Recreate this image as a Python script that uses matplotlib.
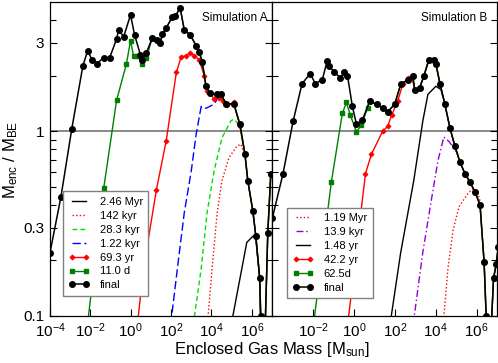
#!/usr/bin/env python3
# -*- coding: utf-8 -*-
"""
M_enc / M_BE 随包围气体质量的变化（两个模拟对比）
"""

import numpy as np
import matplotlib
matplotlib.use('Agg')
import matplotlib.pyplot as plt
from matplotlib.ticker import FixedLocator, FuncFormatter, NullFormatter

# ---- Simulation A (x 为 log10 质量 [M_sun]) ----
a_final_logm = [-4.0, -3.46, -2.92, -2.37, -2.13, -1.93, -1.68, -1.34, -1.04, -0.70, -0.60,
                -0.35, -0.01, 0.19, 0.48, 0.58, 0.78, 1.07, 1.32, 1.47, 1.57, 1.76, 2.06,
                2.21, 2.45, 2.65, 2.95, 3.24, 3.39, 3.54, 3.73, 3.93, 4.28, 4.47, 4.72,
                5.11, 5.41, 5.66, 5.80, 6.05, 6.20, 6.39, 6.44, 6.47, 6.62, 6.79, 6.94]
a_final_y = [0.22, 0.44, 1.03, 2.26, 2.73, 2.44, 2.32, 2.50, 2.50, 3.16, 3.54,
             3.24, 4.26, 3.32, 2.59, 2.44, 2.66, 3.20, 3.12, 3.01, 3.36, 3.62, 4.15,
             4.20, 4.64, 3.54, 3.32, 2.90, 2.69, 2.38, 1.75, 1.60, 1.58, 1.58, 1.41,
             1.40, 1.09, 0.75, 0.54, 0.37, 0.27, 0.16, 0.10, 0.06, 0.06, 0.28, 0.59]

a_d11_logm = [-2.20, -1.34, -0.70, -0.21, -0.01, 0.14, 0.33, 0.58, 0.78, 1.07, 1.32, 1.47,
              1.57, 1.76, 2.06, 2.21, 2.45, 2.65, 2.95, 3.24, 3.39, 3.54, 3.73, 3.93,
              4.28, 4.47, 4.72, 5.11, 5.41, 5.66, 5.80, 6.05, 6.20, 6.39, 6.44, 6.47,
              6.62, 6.79, 6.94]
a_d11_y = [0.08, 0.49, 1.47, 2.32, 3.09, 2.56, 2.56, 2.32, 2.50, 3.20, 3.12, 3.01,
           3.36, 3.62, 4.15, 4.20, 4.64, 3.54, 3.32, 2.90, 2.69, 2.38, 1.75, 1.60,
           1.58, 1.58, 1.41, 1.40, 1.09, 0.75, 0.54, 0.37, 0.27, 0.16, 0.10, 0.06,
           0.06, 0.28, 0.59]

a_yr69_logm = [0.28, 0.63, 1.27, 1.76, 2.26, 2.50, 2.75, 2.95, 3.14, 3.39, 3.64, 3.78,
               3.93, 4.13, 4.37, 4.57, 4.77, 5.11, 5.41, 5.66, 5.80, 6.05, 6.20, 6.39,
               6.44, 6.47, 6.62, 6.79, 6.94]
a_yr69_y = [0.08, 0.18, 0.48, 0.89, 2.08, 2.53, 2.56, 2.66, 2.56, 2.44, 2.00, 1.64,
            1.60, 1.49, 1.52, 1.45, 1.38, 1.43, 1.06, 0.75, 0.54, 0.37, 0.27, 0.16,
            0.10, 0.06, 0.06, 0.28, 0.59]

a_kyr1_logm = [1.98, 2.31, 2.65, 3.00, 3.24, 3.49, 3.73, 4.13, 4.37]
a_kyr1_y = [0.09, 0.18, 0.36, 0.61, 0.96, 1.36, 1.33, 1.40, 1.54]

a_kyr28_logm = [3.10, 3.49, 3.78, 4.13, 4.52, 4.97, 5.11, 5.46]
a_kyr28_y = [0.09, 0.18, 0.36, 0.61, 0.92, 1.14, 1.16, 1.06]

a_kyr142_logm = [3.80, 4.03, 4.28, 4.52, 4.87, 5.26, 5.46, 5.61]
a_kyr142_y = [0.09, 0.18, 0.36, 0.54, 0.72, 0.83, 0.85, 0.76]

a_myr_logm = [4.98, 5.46, 5.75, 6.05, 6.20, 6.39, 6.47]
a_myr_y = [0.09, 0.17, 0.25, 0.27, 0.26, 0.16, 0.06]

# ---- Simulation B ----
b_final_logm = [-3.98, -3.46, -2.97, -2.53, -2.13, -1.89, -1.54, -1.30, -1.20, -0.95, -0.66,
                -0.46, -0.31, -0.07, 0.13, 0.42, 0.77, 1.11, 1.41, 1.65, 2.00, 2.29,
                2.63, 2.88, 2.98, 3.22, 3.42, 3.67, 3.91, 4.01, 4.21, 4.45, 4.70, 4.94,
                5.19, 5.43, 5.68, 5.92, 6.17, 6.37, 6.47, 6.52, 6.62, 6.83, 6.96, 7.06]
b_final_y = [0.34, 0.59, 1.13, 1.81, 2.05, 1.81, 1.90, 2.41, 2.26, 2.08, 1.95,
             2.08, 2.00, 1.36, 1.09, 1.15, 1.45, 1.40, 1.33, 1.27, 1.40, 1.79,
             1.90, 2.00, 1.66, 1.72, 1.98, 2.44, 2.44, 2.32, 1.81, 1.40, 1.04, 0.83,
             0.68, 0.59, 0.53, 0.47, 0.40, 0.195, 0.10, 0.05, 0.05, 0.16, 0.19, 0.235]

b_d62_logm = [-1.97, -1.10, -0.56, -0.36, -0.17, 0.13, 0.37, 0.67, 0.77, 1.11, 1.41, 1.65,
              2.00, 2.29, 2.63, 2.88, 2.98, 3.22, 3.42, 3.67, 3.91, 4.01, 4.21, 4.45,
              4.70, 4.94, 5.19, 5.43, 5.68, 5.92, 6.17, 6.37, 6.47, 6.52, 6.62, 6.83,
              6.96, 7.06]
b_d62_y = [0.09, 0.53, 1.25, 1.43, 1.22, 0.99, 1.08, 1.33, 1.45, 1.40, 1.33, 1.27,
           1.40, 1.79, 1.90, 2.00, 1.66, 1.72, 1.98, 2.44, 2.44, 2.32, 1.81, 1.40,
           1.04, 0.83, 0.68, 0.59, 0.53, 0.47, 0.40, 0.195, 0.10, 0.05, 0.05, 0.16,
           0.19, 0.235]

b_yr42_logm = [-0.30, 0.57, 0.86, 1.41, 1.65, 1.85, 2.14, 2.39, 2.63, 2.83, 2.98, 3.22,
               3.42, 3.67, 3.91, 4.01, 4.21, 4.45, 4.70, 4.94, 5.19, 5.43, 5.68, 5.92,
               6.17, 6.37, 6.47, 6.52, 6.62, 6.83, 6.96, 7.06]
b_yr42_y = [0.09, 0.59, 0.75, 1.00, 1.06, 1.22, 1.45, 1.79, 1.93, 2.00, 1.66, 1.72,
            1.98, 2.44, 2.44, 2.32, 1.81, 1.40, 1.04, 0.83, 0.68, 0.59, 0.53, 0.47,
            0.40, 0.195, 0.10, 0.05, 0.05, 0.16, 0.19, 0.235]

b_yr148_logm = [1.77, 2.29, 2.93, 3.37, 3.62, 4.01, 4.26, 4.35]
b_yr148_y = [0.09, 0.22, 0.54, 1.13, 1.58, 1.75, 1.68, 1.54]

b_kyr14_logm = [2.90, 3.37, 3.76, 4.11, 4.40, 4.65, 4.89, 5.09]
b_kyr14_y = [0.09, 0.22, 0.405, 0.69, 0.93, 0.88, 0.81, 0.75]

b_myr_logm = [4.37, 4.60, 4.85, 5.14, 5.58, 5.83, 6.07, 6.22]
b_myr_y = [0.09, 0.18, 0.29, 0.39, 0.46, 0.49, 0.46, 0.40]

# 字体
plt.rcParams['font.family'] = ['Liberation Sans', 'DejaVu Sans']
plt.rcParams['mathtext.fontset'] = 'custom'
plt.rcParams['mathtext.rm'] = 'Liberation Sans'
plt.rcParams['mathtext.it'] = 'Liberation Sans:italic'
plt.rcParams['mathtext.bf'] = 'Liberation Sans:bold'

RED = '#ff0000'
DKGREEN = '#008000'
LIME = '#00e000'
BLUE = '#0000ff'
PURPLE = '#9400d3'

fig = plt.figure(figsize=(4.98, 3.63), dpi=100)
axA = fig.add_axes([0.1004, 0.1295, 0.4458, 0.865])
axB = fig.add_axes([0.5462, 0.1295, 0.4518, 0.865])


def curve(ax, logm, y, label, **kw):
    ax.plot(np.power(10.0, logm), y, label=label, **kw)


# Simulation A
curve(axA, a_myr_logm, a_myr_y, '2.46 Myr', color='k', lw=1.0)
curve(axA, a_kyr142_logm, a_kyr142_y, '142 kyr', color=RED, lw=1.0, ls=(0, (1, 1.6)))
curve(axA, a_kyr28_logm, a_kyr28_y, '28.3 kyr', color=LIME, lw=1.0, ls=(0, (3.5, 2.2)))
curve(axA, a_kyr1_logm, a_kyr1_y, '1.22 kyr', color=BLUE, lw=1.0, ls=(0, (6, 2.5)))
curve(axA, a_yr69_logm, a_yr69_y, '69.3 yr', color=RED, lw=1.0, marker='D', ms=2.6, mew=0.6)
curve(axA, a_d11_logm, a_d11_y, '11.0 d', color=DKGREEN, lw=1.0, marker='s', ms=3.1)
curve(axA, a_final_logm, a_final_y, 'final', color='k', lw=1.1, marker='o', ms=4.0)

# Simulation B
curve(axB, b_myr_logm, b_myr_y, '1.19 Myr', color=RED, lw=1.0, ls=(0, (1, 1.6)))
curve(axB, b_kyr14_logm, b_kyr14_y, '13.9 kyr', color=PURPLE, lw=1.0, ls=(0, (5, 2, 1, 2)))
curve(axB, b_yr148_logm, b_yr148_y, '1.48 yr', color='k', lw=1.0)
curve(axB, b_yr42_logm, b_yr42_y, '42.2 yr', color=RED, lw=1.0, marker='D', ms=2.6, mew=0.6)
curve(axB, b_d62_logm, b_d62_y, '62.5d', color=DKGREEN, lw=1.0, marker='s', ms=3.1)
curve(axB, b_final_logm, b_final_y, 'final', color='k', lw=1.1, marker='o', ms=4.0)

for ax, name, tx in [(axA, 'Simulation A', 0.982), (axB, 'Simulation B', 0.958)]:
    ax.axhline(1.0, color='#808080', lw=1.3, zorder=1)
    ax.set_xscale('log')
    ax.set_yscale('log')
    ax.set_xlim(1e-4, 1e7)
    ax.set_ylim(0.1, 5.0)
    ax.yaxis.set_major_locator(FixedLocator([0.1, 0.3, 1, 3]))
    ax.yaxis.set_minor_locator(FixedLocator([0.2, 0.4, 0.5, 0.6, 0.7, 0.8, 0.9, 2, 4]))
    ax.yaxis.set_major_formatter(FuncFormatter(lambda v, p: f'{v:g}'))
    ax.yaxis.set_minor_formatter(NullFormatter())
    ax.xaxis.set_minor_locator(FixedLocator([]))
    ax.tick_params(which='both', direction='in', right=True, top=False, labelsize=11, width=0.8)
    ax.tick_params(which='major', length=5, pad=4)
    ax.tick_params(which='minor', length=4)
    for s in ax.spines.values():
        s.set_linewidth(0.9)
    ax.text(tx, 0.968, name, transform=ax.transAxes, ha='right', va='top', fontsize=8.5)

axA.xaxis.set_major_locator(FixedLocator([1e-4, 1e-2, 1e0, 1e2, 1e4, 1e6]))
axB.xaxis.set_major_locator(FixedLocator([1e-2, 1e0, 1e2, 1e4, 1e6]))
axB.tick_params(labelleft=False)

leg_kw = dict(fontsize=8, loc='lower left', borderaxespad=0, fancybox=False,
              framealpha=1, edgecolor='#808080', numpoints=2, handlelength=1.9,
              handletextpad=0.9, labelspacing=0.35, borderpad=0.5)
legA = axA.legend(bbox_to_anchor=(0.058, 0.064), **leg_kw)
legB = axB.legend(bbox_to_anchor=(0.067, 0.057), **leg_kw)
for lg in (legA, legB):
    lg.get_frame().set_linewidth(1.0)

fig.text(0.022, 0.56, r'M$_\mathrm{enc}$ / M$_\mathrm{BE}$', rotation=90,
         ha='center', va='center', fontsize=12)
fig.text(0.546, 0.026, r'Enclosed Gas Mass [M$_\mathrm{sun}$]', ha='center',
         va='baseline', fontsize=12)

fig.savefig('out.png', dpi=100)
